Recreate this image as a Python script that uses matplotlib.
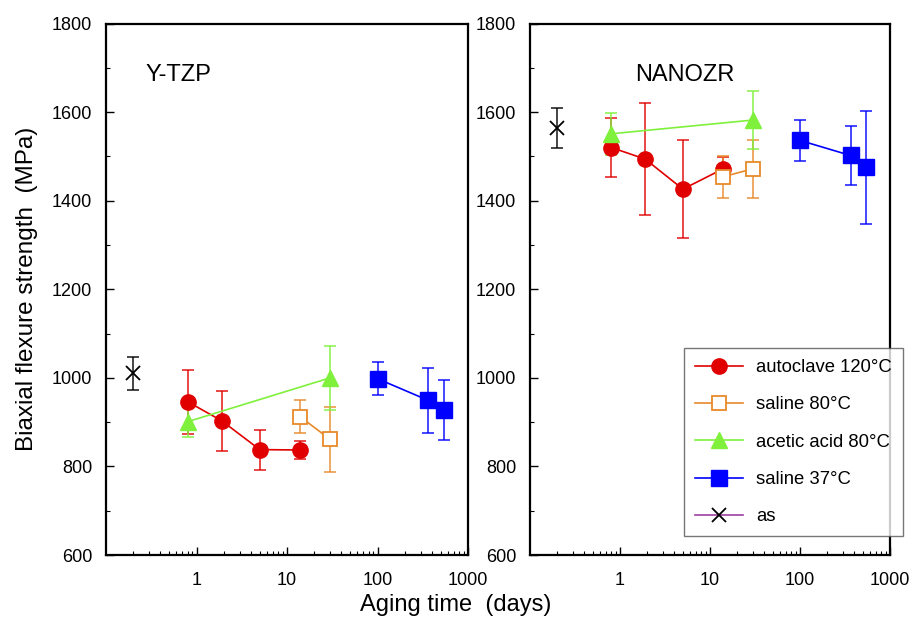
import matplotlib.pyplot as plt
from matplotlib.ticker import MultipleLocator, LogLocator, NullFormatter, FixedLocator, FixedFormatter

plt.rcParams.update({"font.family": ["Liberation Sans", "DejaVu Sans"], "font.size": 13})

# aging times (days)
t_as = [0.2]
t_auto = [0.8, 1.9, 5, 14]
t_sal80 = [14, 30]
t_acetic = [0.8, 30]
t_sal37 = [100, 365, 540]

# Y-TZP strength (MPa) and std
ytzp = {
    "as": ([1010], [37]),
    "auto": ([946, 903, 838, 837], [72, 68, 45, 20]),
    "sal80": ([912, 861], [37, 73]),
    "acetic": ([901, 1000], [34, 72]),
    "sal37": ([998, 949, 928], [37, 74, 68]),
}
# NANOZR strength (MPa) and std
nanozr = {
    "as": ([1564], [46]),
    "auto": ([1520, 1494, 1426, 1472], [66, 127, 110, 27]),
    "sal80": ([1454, 1472], [47, 65]),
    "acetic": ([1551, 1582], [48, 65]),
    "sal37": ([1536, 1502, 1475], [47, 66, 127]),
}

series = [
    ("auto", t_auto, "autoclave 120°C", dict(color="#e00000", marker="o", ms=11, mfc="#e00000", mec="#e00000")),
    ("sal80", t_sal80, "saline 80°C", dict(color="#e8892a", marker="s", ms=10, mfc="white", mec="#e8892a", mew=1.3)),
    ("acetic", t_acetic, "acetic acid 80°C", dict(color="#7ff03c", marker="^", ms=11, mfc="#7ff03c", mec="#7ff03c")),
    ("sal37", t_sal37, "saline 37°C", dict(color="#0000ff", marker="s", ms=11, mfc="#0000ff", mec="#0000ff")),
    ("as", t_as, "as", dict(color="#a040a0", marker="x", ms=10, mfc="black", mec="black", mew=1.3)),
]

fig = plt.figure(figsize=(9.12, 6.22), dpi=100)
ax1 = fig.add_axes([106 / 912, 1 - 555 / 622, 362 / 912, 531.5 / 622])
ax2 = fig.add_axes([530 / 912, 1 - 555 / 622, 360 / 912, 531.5 / 622])

handles = []
for ax, data, name, tx in [(ax1, ytzp, "Y-TZP", 0.108), (ax2, nanozr, "NANOZR", 0.292)]:
    handles = []
    for key, t, label, st in series:
        vals, errs = data[key]
        ecol = "black" if key == "as" else st["color"]
        ax.errorbar(t, vals, yerr=errs, fmt="none", ecolor=ecol, elinewidth=1.2,
                    capsize=4, capthick=1.2, alpha=0.85, zorder=2)
        h, = ax.plot(t, vals, lw=1.2, label=label, zorder=3, **st)
        handles.append(h)
    ax.set_xscale("log")
    ax.set_xlim(0.1, 1000)
    ax.set_ylim(600, 1800)
    ax.xaxis.set_major_locator(FixedLocator([1, 10, 100, 1000]))
    ax.xaxis.set_major_formatter(FixedFormatter(["1", "10", "100", "1000"]))
    ax.xaxis.set_minor_locator(LogLocator(base=10, subs=range(2, 10)))
    ax.xaxis.set_minor_formatter(NullFormatter())
    ax.yaxis.set_major_locator(MultipleLocator(200))
    ax.yaxis.set_minor_locator(MultipleLocator(100))
    ax.tick_params(which="both", direction="in", top=False, right=False)
    ax.tick_params(which="major", length=6, width=1, pad=10)
    ax.tick_params(which="minor", length=3, width=0.8)
    ax.tick_params(axis="x", which="major", pad=12)
    for sp in ax.spines.values():
        sp.set_linewidth(1.6)
    ax.text(tx, 0.904, name, transform=ax.transAxes, fontsize=17, va="center", ha="left")

ax1.set_ylabel("Biaxial flexure strength  (MPa)", fontsize=17.5, labelpad=10)
fig.text(0.5, 1 - 605 / 622, "Aging time  (days)", fontsize=17, ha="center", va="center")

leg = fig.legend(handles, [h.get_label() for h in handles], loc="upper left",
                 bbox_to_anchor=(684 / 912, 1 - 348 / 622),
                 fontsize=13.3, frameon=True, fancybox=False, edgecolor="#555555",
                 handlelength=2.6, handletextpad=0.7, labelspacing=1.1, borderpad=0.6,
                 borderaxespad=0)
leg.get_frame().set_linewidth(1.0)

fig.savefig("out.png", dpi=100)
